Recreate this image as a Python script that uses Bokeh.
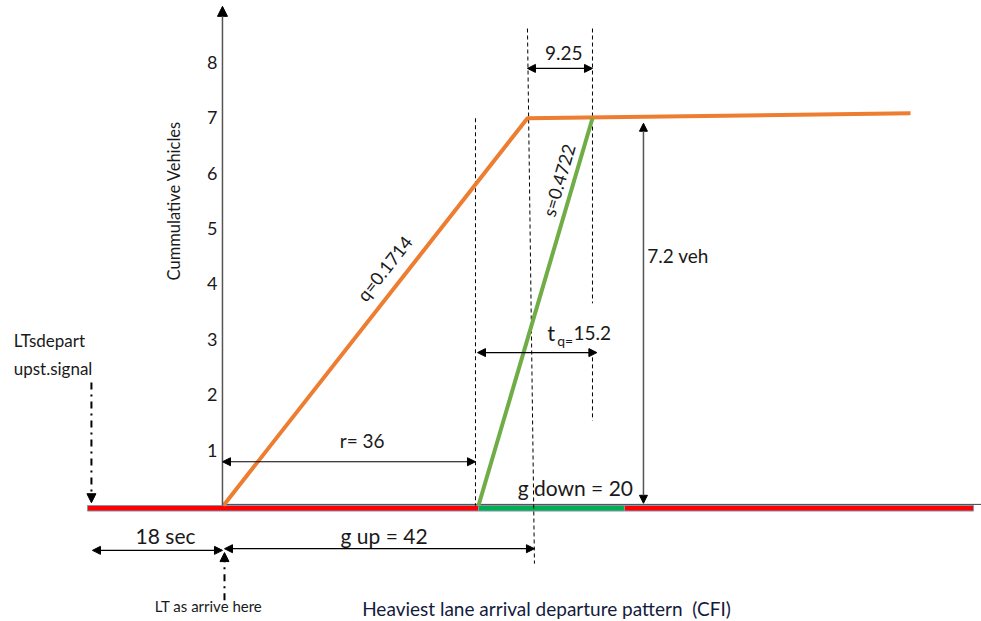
import math
from bokeh.plotting import figure
from bokeh.models import Arrow, NormalHead
from bokeh.core.properties import value
from bokeh.embed import file_html
from bokeh.resources import INLINE

# ---- data (time in s, cumulative vehicles) ----
arrival_t = [0.14, 42.36, 95.56]
arrival_n = [0.0, 6.99, 7.08]
departure_t = [35.56, 51.39]
departure_n = [0.0, 6.99]

signal_left = [-18.75, 35.56, 55.83]
signal_right = [35.56, 55.83, 104.31]
signal_color = ["#FF0000", "#00B050", "#FF0000"]

y_ticks = [1, 2, 3, 4, 5, 6, 7, 8]
y_tick_labels = ["1", "2", "3", "4", "5", "6", "7", "8"]

# dashed guide lines (x0, y0, x1, y1)
guide_x0 = [35.14, 42.36, 51.39, 51.39]
guide_y0 = [6.99, 8.61, 8.61, 2.80]
guide_x1 = [35.14, 43.33, 51.39, 51.39]
guide_y1 = [0.0, -1.05, 3.65, 1.53]

# dimension arrows (two heads)
dim_x0 = [42.36, 0.0, 35.42, 0.28, -18.06, 58.47]
dim_y0 = [7.89, 0.79, 2.76, -0.78, -0.81, 6.90]
dim_x1 = [51.39, 35.14, 52.0, 43.33, 0.0, 58.47]
dim_y1 = [7.89, 0.79, 2.76, -0.78, -0.81, 0.04]
dim_color = ["black", "black", "black", "black", "black", "#555555"]

# dash-dot pointer arrows (one head)
ptr_x0 = [-18.2, 0.28]
ptr_y0 = [2.22, -1.71]
ptr_x1 = [-18.2, 0.28]
ptr_y1 = [0.05, -0.85]

TXT = "Lato"

p = figure(width=981, height=621, x_range=(-30.83, 105.42), y_range=(-2.094, 9.116),
           x_axis_type=None, y_axis_type=None, toolbar_location=None,
           output_backend="svg", min_border=0)
p.outline_line_color = None
p.grid.visible = False

# signal bar
p.quad(left=signal_left, right=signal_right, top=0.0, bottom=-0.1,
       fill_color=signal_color, line_color="#8497B0", line_width=1)
# x axis line
p.line(x=[0.0, 105.42], y=[0.02, 0.02], line_color="#404040", line_width=1)

# y axis with arrow head
p.add_layout(Arrow(end=NormalHead(size=10, fill_color="black", line_color="black"),
                   x_start=0.0, y_start=0.0, x_end=0.0, y_end=9.01,
                   line_color="#555555", line_width=1.5))
p.text(x=[-0.69] * len(y_ticks), y=y_ticks, text=y_tick_labels,
       text_align="right", text_baseline="middle", text_font=value(TXT),
       text_font_size="18px", text_color="#1a1a1a")

# guides
p.segment(x0=guide_x0, y0=guide_y0, x1=guide_x1, y1=guide_y1,
          line_color="black", line_width=1, line_dash="4 3")

# curves
p.line(x=arrival_t, y=arrival_n, line_color="#ED7D31", line_width=4)
p.line(x=departure_t, y=departure_n, line_color="#70AD47", line_width=4)

for i in range(len(dim_x0)):
    c = dim_color[i]
    p.add_layout(Arrow(start=NormalHead(size=8, fill_color="black", line_color="black"),
                       end=NormalHead(size=8, fill_color="black", line_color="black"),
                       x_start=dim_x0[i], y_start=dim_y0[i], x_end=dim_x1[i], y_end=dim_y1[i],
                       line_color=c, line_width=1.5 if c != "black" else 1.2))

for i in range(len(ptr_x0)):
    p.add_layout(Arrow(end=NormalHead(size=9, fill_color="black", line_color="black"),
                       x_start=ptr_x0[i], y_start=ptr_y0[i], x_end=ptr_x1[i], y_end=ptr_y1[i],
                       line_color="black", line_width=2, line_dash="7 5 2 5"))

# labels
def txt(x, y, s, size, align="left", angle=0.0, color="#1a1a1a", baseline="middle"):
    p.text(x=[x], y=[y], text=[s], text_align=align, text_baseline=baseline,
           angle=angle, text_font=value(TXT), text_font_size=size, text_color=color)

txt(47.4, 8.16, "9.25", "19px", "center")
txt(59.0, 4.51, "7.2 veh", "19px")
txt(19.4, 1.17, "r= 36", "19px", "center")
txt(45.1, 3.12, "t", "22px")
txt(46.5, 2.98, "q=", "14px")
txt(48.75, 3.12, "15.2", "19px")
txt(41.0, 0.32, "g down = 20", "21px")
txt(16.4, -0.54, "g up = 42", "21px")
txt(-7.9, -0.54, "18 sec", "21px", "center")
txt(-29.0, 2.98, "LTsdepart", "17px")
txt(-29.0, 2.47, "upst.signal", "17px")
txt(-1.94, -1.82, "LT as arrive here", "15px", "center")
txt(19.4, -1.86, "Heaviest lane arrival departure pattern\u00a0\u00a0(CFI)", "19px", color="#141a3c")
txt(-6.8, 5.5, "Cummulative Vehicles", "16.5px", "center", angle=math.pi / 2)
txt(22.5, 4.28, "q=0.1714", "18px", "center", angle=math.radians(51.8))
txt(46.7, 5.87, "s=0.4722", "18px", "center", angle=math.radians(73.6))

open("out.html", "w").write(file_html(p, INLINE))
